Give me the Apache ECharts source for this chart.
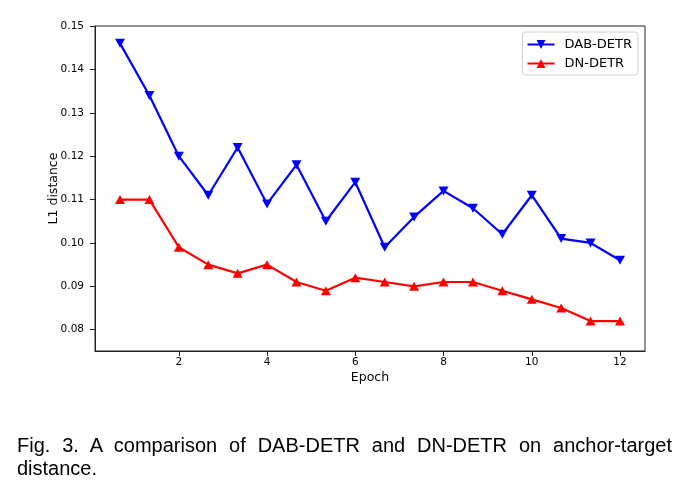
<!DOCTYPE html>
<html>
<head>
<meta charset="utf-8">
<script src="https://cdn.jsdelivr.net/npm/echarts@6/dist/echarts.min.js"></script>
<style>
  html, body { margin: 0; padding: 0; background: #fff; }
  #wrap { position: relative; width: 697px; height: 499px; }
  #chart { position: absolute; left: 0; top: 0; width: 697px; height: 499px; }
  #caption {
    position: absolute; left: 17px; top: 434px; width: 655px;
    font-family: "Liberation Sans", Arial, sans-serif; font-size: 20px;
    line-height: 23px; text-align: justify; color: #000;
  }
</style>
</head>
<body>
<div id="wrap">
  <div id="chart"></div>
  <div id="caption">Fig. 3. A comparison of DAB-DETR and DN-DETR on anchor-target distance.</div>
</div>
<script>
// ---- data ----
const epochs = [0.667, 1.333, 2, 2.667, 3.333, 4, 4.667, 5.333, 6, 6.667, 7.333, 8, 8.667, 9.333, 10, 10.667, 11.333, 12];
const dabDetr = [0.146, 0.134, 0.120, 0.111, 0.122, 0.109, 0.118, 0.105, 0.114, 0.099, 0.106, 0.112, 0.108, 0.102, 0.111, 0.101, 0.100, 0.096];
const dnDetr  = [0.110, 0.110, 0.099, 0.095, 0.093, 0.095, 0.091, 0.089, 0.092, 0.091, 0.090, 0.091, 0.091, 0.089, 0.087, 0.085, 0.082, 0.082];
const xTicks = [2, 4, 6, 8, 10, 12];
const yTicks = [0.08, 0.09, 0.10, 0.11, 0.12, 0.13, 0.14, 0.15];
const seriesNames = ['DAB-DETR', 'DN-DETR'];

const pairs = (ys) => epochs.map((x, i) => [x, ys[i]]);
const tickFont = { fontFamily: 'DejaVu Sans', fontSize: 10.5, color: '#000' };
const nameFont = { fontFamily: 'DejaVu Sans', fontSize: 12.5, color: '#000' };

const chart = echarts.init(document.getElementById('chart'), null, { renderer: 'canvas' });
chart.setOption({
  animation: false,
  backgroundColor: '#fff',
  grid: {
    left: 95, right: 52, top: 26, bottom: 148,
    show: true, borderColor: '#222', borderWidth: 1, backgroundColor: 'transparent'
  },
  legend: {
    orient: 'vertical',
    right: 59, top: 32,
    data: seriesNames,
    itemWidth: 27, itemHeight: 11, itemGap: 6,
    backgroundColor: '#fff',
    borderColor: '#d0d0d0', borderWidth: 1, borderRadius: 3,
    padding: [6, 6, 5, 4],
    textStyle: { fontFamily: 'DejaVu Sans', fontSize: 13, color: '#000', padding: [0, 0, 0, 5] }
  },
  xAxis: {
    type: 'value',
    min: 0.1, max: 12.567,
    name: 'Epoch', nameLocation: 'middle', nameGap: 20,
    nameMoveOverlap: false,
    nameTextStyle: nameFont,
    axisLine: { show: true, lineStyle: { color: '#222', width: 1 } },
    axisTick: { show: true, length: 5, customValues: xTicks, lineStyle: { color: '#222' } },
    axisLabel: Object.assign({ margin: 6, customValues: xTicks }, tickFont),
    splitLine: { show: false }
  },
  yAxis: {
    type: 'value',
    min: 0.0751, max: 0.15,
    name: 'L1 distance', nameLocation: 'middle', nameGap: 35,
    nameMoveOverlap: false,
    nameTextStyle: nameFont,
    axisLine: { show: true, lineStyle: { color: '#222', width: 1 } },
    axisTick: { show: true, length: 5, customValues: yTicks, lineStyle: { color: '#222' } },
    axisLabel: Object.assign({ margin: 11, customValues: yTicks, formatter: (v) => v.toFixed(2) }, tickFont),
    splitLine: { show: false }
  },
  series: [
    {
      name: seriesNames[0], type: 'line', data: pairs(dabDetr),
      color: '#0000ff',
      lineStyle: { color: '#0000ff', width: 2.2 },
      itemStyle: { color: '#0000ff' },
      symbol: 'path://M0,0 L10,0 L5,9 Z', symbolSize: [10, 9], showSymbol: true
    },
    {
      name: seriesNames[1], type: 'line', data: pairs(dnDetr),
      color: '#ff0000',
      lineStyle: { color: '#ff0000', width: 2.2 },
      itemStyle: { color: '#ff0000' },
      symbol: 'path://M5,0 L10,9 L0,9 Z', symbolSize: [10, 9], showSymbol: true
    }
  ]
});
</script>
</body>
</html>
